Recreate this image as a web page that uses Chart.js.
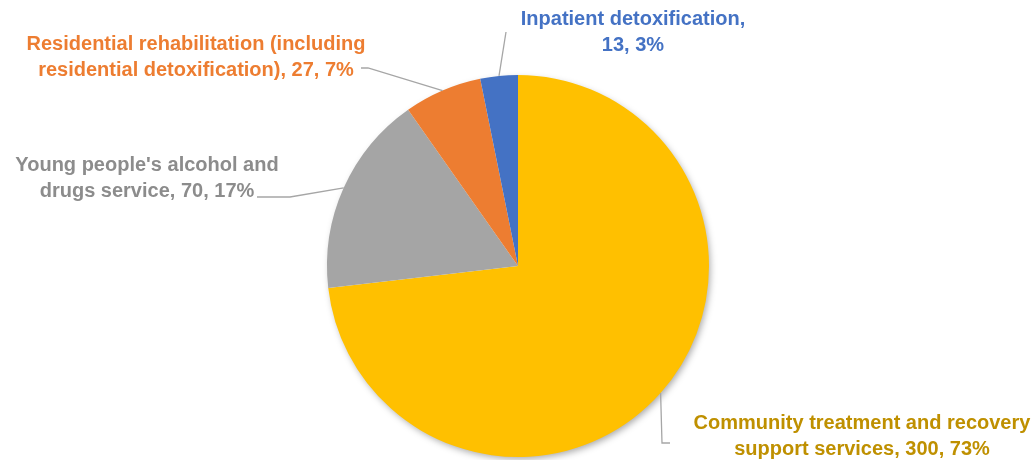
<!DOCTYPE html>
<html>
<head>
<meta charset="utf-8">
<script src="https://cdn.jsdelivr.net/npm/chart.js@4/dist/chart.umd.min.js"></script>
<style>
  html, body { margin: 0; padding: 0; background: #ffffff; }
  #wrap { width: 1035px; height: 460px; position: relative; }
</style>
</head>
<body>
<div id="wrap"><canvas id="pie-chart"></canvas></div>
<script>
// data
const categories = [
  "Community treatment and recovery support services",
  "Young people's alcohol and drugs service",
  "Residential rehabilitation (including residential detoxification)",
  "Inpatient detoxification",
];
const values = [300, 70, 27, 13];
// how each label is wrapped (value and percent go on the last line)
const labelWrap = [
  ["Community treatment and recovery", "support services"],
  ["Young people's alcohol and", "drugs service"],
  ["Residential rehabilitation (including", "residential detoxification)"],
  ["Inpatient detoxification,", ""],
];

const sliceColors = ["#FFC000", "#A5A5A5", "#ED7D31", "#4472C4"];
const textColors = ["#BF9000", "#8C8C8C", "#ED7D31", "#4472C4"];

// label placement: centre x, first line y, elbow points of the leader line
const labelPlace = [
  { x: 862, y: 423, elbow: [[670, 443], [662, 443]] },
  { x: 147, y: 165, elbow: [[257, 197], [290, 197]] },
  { x: 196, y: 44, elbow: [[361, 68], [368, 68]] },
  { x: 633, y: 19, elbow: [[506, 32]] },
];

var total = values.reduce(function (a, b) { return a + b; }, 0);

function labelLines(i) {
  var pct = Math.round((values[i] / total) * 100);
  var lines = labelWrap[i].slice();
  var last = lines[lines.length - 1];
  lines[lines.length - 1] = (last ? last + ", " : "") + values[i] + ", " + pct + "%";
  return lines;
}

// soft shadow under the whole pie
var pieShadow = {
  id: "pieShadow",
  beforeDatasetsDraw: function (chart) {
    var arc = chart.getDatasetMeta(0).data[0];
    if (!arc) return;
    var c = chart.ctx;
    c.save();
    c.shadowColor = "rgba(0,0,0,0.35)";
    c.shadowBlur = 7;
    c.shadowOffsetX = 2;
    c.shadowOffsetY = 3;
    c.fillStyle = "#ffffff";
    c.beginPath();
    c.arc(arc.x, arc.y, arc.outerRadius - 1, 0, Math.PI * 2);
    c.fill();
    c.restore();
  },
};

// data labels with leader lines
var outsideLabels = {
  id: "outsideLabels",
  afterDatasetsDraw: function (chart) {
    var c = chart.ctx;
    var arcs = chart.getDatasetMeta(0).data;
    arcs.forEach(function (arc, i) {
      var place = labelPlace[i];
      var mid = (arc.startAngle + arc.endAngle) / 2;
      var ax = arc.x + Math.cos(mid) * arc.outerRadius;
      var ay = arc.y + Math.sin(mid) * arc.outerRadius;

      c.save();
      c.strokeStyle = "#A6A6A6";
      c.lineWidth = 1.3;
      c.beginPath();
      c.moveTo(ax, ay);
      for (var k = place.elbow.length - 1; k >= 0; k--) {
        c.lineTo(place.elbow[k][0], place.elbow[k][1]);
      }
      c.stroke();

      c.fillStyle = textColors[i];
      c.font = "bold 20px 'Liberation Sans', Arial, sans-serif";
      c.textAlign = "center";
      c.textBaseline = "middle";
      labelLines(i).forEach(function (line, j) {
        c.fillText(line, place.x, place.y + j * 26);
      });
      c.restore();
    });
  },
};

const ctx = document.getElementById("pie-chart");
var pieChart = new Chart(ctx, {
  type: "pie",
  data: {
    labels: categories,
    datasets: [
      {
        data: values,
        backgroundColor: sliceColors,
        borderWidth: 0,
      },
    ],
  },
  options: {
    responsive: true,
    maintainAspectRatio: false,
    animation: false,
    layout: {
      padding: { top: 75, bottom: 3, left: 1, right: 0 },
    },
    plugins: {
      legend: { display: false },
      tooltip: { enabled: false },
    },
  },
  plugins: [pieShadow, outsideLabels],
});
</script>
</body>
</html>
